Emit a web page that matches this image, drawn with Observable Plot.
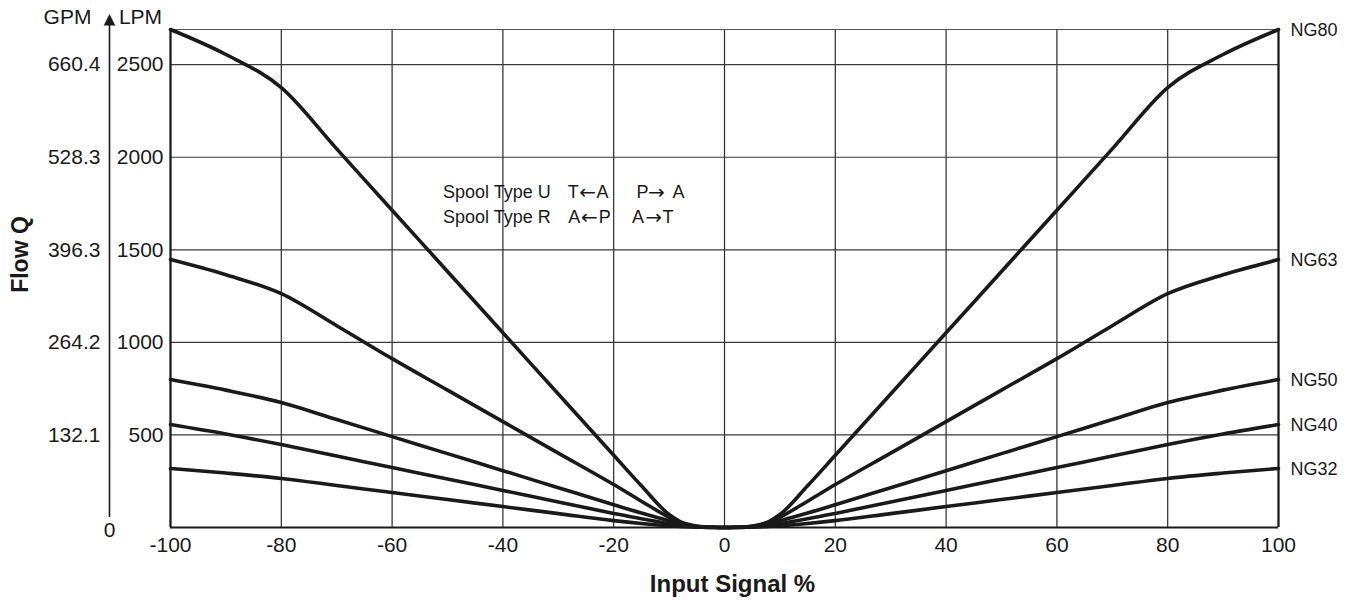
<!DOCTYPE html>
<html>
<head>
<meta charset="utf-8">
<script src="https://cdn.jsdelivr.net/npm/d3@7"></script>
<script src="https://cdn.jsdelivr.net/npm/@observablehq/plot@0.6"></script>
<style>
  html, body { margin: 0; padding: 0; background: #fff; }
  #chart svg { display: block; }
</style>
</head>
<body>
<div id="chart"></div>
<script>
// Input signal (%) sample points
const signal = [-100, -90, -80, -70, -60, -50, -40, -30, -20, -15, -10, -8, -6, -4, -2, 0,
                2, 4, 6, 8, 10, 15, 20, 30, 40, 50, 60, 70, 80, 90, 100];

// Flow Q (LPM) per valve size
const ng80 = [2690, 2555, 2376, 2045, 1714, 1383, 1052, 721, 390, 225, 70, 32, 13, 4, 1, 0,
              1, 4, 13, 32, 70, 225, 390, 721, 1052, 1383, 1714, 2045, 2376, 2555, 2690];
const ng63 = [1447, 1365, 1263, 1090, 912, 742, 572, 402, 232, 142, 55, 26, 10, 3, 1, 0,
              1, 3, 10, 26, 55, 142, 232, 402, 572, 742, 912, 1090, 1263, 1365, 1447];
const ng50 = [799, 742, 675, 583, 491, 399, 307, 215, 123, 78, 36, 20, 8, 3, 1, 0,
              1, 3, 8, 20, 36, 78, 123, 215, 307, 399, 491, 583, 675, 742, 799];
const ng40 = [556, 505, 448, 386, 324, 262, 200, 138, 76, 47, 21, 12, 5, 2, 0.5, 0,
              0.5, 2, 5, 12, 21, 47, 76, 138, 200, 262, 324, 386, 448, 505, 556];
const ng32 = [319, 294, 265, 227, 189, 151, 113, 75, 37, 22, 10, 6, 3, 1, 0.3, 0,
              0.3, 1, 3, 6, 10, 22, 37, 75, 113, 151, 189, 227, 265, 294, 319];

const seriesNames = ["NG80", "NG63", "NG50", "NG40", "NG32"];
const seriesValues = [ng80, ng63, ng50, ng40, ng32];

// Axis ticks
const xTicks = [-100, -80, -60, -40, -20, 0, 20, 40, 60, 80, 100];
const lpmTicks = [500, 1000, 1500, 2000, 2500];
const gpmLabels = ["132.1", "264.2", "396.3", "528.3", "660.4"];
const yTop = 2690;

// Annotation texts
const noteWords1 = ["Spool Type U", "T", "A", "P", "A"];
const noteArrows1 = ["\u2190", "\u2192"];
const noteWords2 = ["Spool Type R", "A", "P", "A", "T"];
const noteArrows2 = ["\u2190", "\u2192"];

const rows = seriesNames.flatMap((name, i) =>
  signal.map((s, j) => ({series: name, x: s, y: seriesValues[i][j]})));

const font = "'Liberation Sans', Arial, Helvetica, sans-serif";
const arrowFont = "'DejaVu Sans', sans-serif";
const ink = "#1a1a1a";

// annotation placement (signal-% and LPM coordinates)
const wordX1 = [-50.8, -28.3, -23.1, -15.9, -9.4];
const arrowX1 = [-26.2, -13.8];
const wordX2 = [-50.8, -28.2, -22.7, -16.7, -11.2];
const arrowX2 = [-25.9, -14.3];
const noteY1 = 1810, noteY2 = 1675;

const chart = Plot.plot({
  width: 1351,
  height: 600,
  marginLeft: 170,
  marginRight: 73,
  marginTop: 29,
  marginBottom: 73,
  style: {fontFamily: font, color: ink, background: "#fff", overflow: "visible"},
  x: {domain: [-100, 100]},
  y: {domain: [0, yTop]},
  marks: [
    // grid
    Plot.ruleX(xTicks, {stroke: "#2a2a2a", strokeWidth: 1.2}),
    Plot.ruleY(lpmTicks, {stroke: "#3a3a3a", strokeWidth: 1.2}),
    Plot.ruleY([yTop], {stroke: "#555", strokeWidth: 1.2}),
    // frame sides
    Plot.ruleX([-100, 100], {stroke: ink, strokeWidth: 2.2}),
    Plot.ruleY([0], {stroke: ink, strokeWidth: 2.2}),
    // curves
    Plot.line(rows, {x: "x", y: "y", z: "series", stroke: ink, strokeWidth: 3.6, curve: "monotone-x", strokeLinejoin: "round"}),
    // series labels
    Plot.text(rows, Plot.selectLast({x: "x", y: "y", z: "series", text: "series", textAnchor: "start", dx: 12, dy: 1, fontSize: 18, fill: ink})),
    // LPM axis
    Plot.axisY(lpmTicks, {anchor: "left", tickSize: 0, tickPadding: 7, fontSize: 21, label: null, tickFormat: d => String(d)}),
    // GPM axis
    Plot.axisY(lpmTicks, {anchor: "left", tickSize: 0, tickPadding: 7, dx: -63, fontSize: 21, label: null,
      tickFormat: d => gpmLabels[lpmTicks.indexOf(d)]}),
    // X axis
    Plot.axisX(xTicks, {anchor: "bottom", tickSize: 0, tickPadding: 10, fontSize: 21, label: null, tickFormat: d => String(d)}),
    // vertical arrow axis line with filled head
    Plot.ruleX([-100], {y1: 54, y2: 2716, dx: -61, stroke: ink, strokeWidth: 1.6, clip: false}),
    Plot.vector([-100], {x: d => d, y: () => 2712, dx: -61, length: 11, r: 5.5, shape: "spike", anchor: "start", fill: ink, stroke: ink, strokeWidth: 0.5}),
    Plot.text(["0"], {x: () => -100, y: () => 0, dx: -61, dy: 3, fontSize: 21, fill: ink}),
    // unit headers
    Plot.text(["GPM"], {frameAnchor: "top-left", dx: -103, dy: -20, fontSize: 21, fill: ink, textAnchor: "middle", lineAnchor: "top"}),
    Plot.text(["LPM"], {frameAnchor: "top-left", dx: -30, dy: -20, fontSize: 21, fill: ink, textAnchor: "middle", lineAnchor: "top"}),
    // axis titles
    Plot.text(["Flow Q"], {frameAnchor: "left", dx: -150, dy: -24, rotate: -90, textAnchor: "middle", lineAnchor: "middle", fontSize: 23, fontWeight: "bold", fill: ink}),
    Plot.text(["Input Signal %"], {frameAnchor: "bottom", dx: 8, dy: 57, textAnchor: "middle", lineAnchor: "middle", fontSize: 24, fontWeight: "bold", fill: ink}),
    // annotation
    Plot.text(noteWords1, {x: (d, i) => wordX1[i], y: () => noteY1, textAnchor: "start", fontSize: 18, fill: ink}),
    Plot.text(noteArrows1, {x: (d, i) => arrowX1[i], y: () => noteY1, textAnchor: "start", fontSize: 20, fontFamily: arrowFont, fill: ink}),
    Plot.text(noteWords2, {x: (d, i) => wordX2[i], y: () => noteY2, textAnchor: "start", fontSize: 18, fill: ink}),
    Plot.text(noteArrows2, {x: (d, i) => arrowX2[i], y: () => noteY2, textAnchor: "start", fontSize: 20, fontFamily: arrowFont, fill: ink})
  ]
});

document.getElementById("chart").appendChild(chart);
</script>
</body>
</html>
